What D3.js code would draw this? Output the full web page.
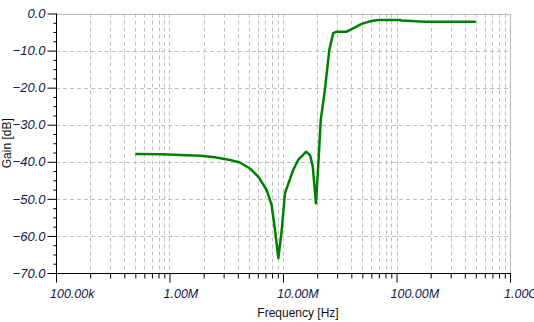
<!DOCTYPE html>
<html>
<head>
<meta charset="utf-8">
<script src="https://cdn.jsdelivr.net/npm/d3@7"></script>
<style>
  body { margin: 0; background: #fff; }
  svg { display: block; }
</style>
</head>
<body>
<script>
  var width = 534;
  var height = 322;

  // frequency [Hz] and gain [dB]
  var freq = [0.5e6, 0.877e6, 1.24e6, 1.86e6, 2.52e6, 3.41e6, 4.18e6, 5.12e6, 6.05e6, 7.18e6,
    7.94e6, 8.5e6, 9.1e6, 9.75e6, 10.4e6, 12.3e6, 13.6e6, 15.96e6, 17.3e6, 18.3e6,
    19.5e6, 20.5e6, 21.5e6, 23.4e6, 25.6e6, 27.7e6, 29.7e6, 36.4e6, 40.3e6, 49.3e6,
    60.4e6, 69.1e6, 107e6, 111e6, 178e6, 500e6];
  var gain = [-37.9, -38.0, -38.2, -38.4, -38.8, -39.5, -40.2, -41.8, -44.0, -47.6,
    -51.7, -58.4, -66.0, -58.4, -48.5, -42.2, -39.5, -37.3, -38.2, -41.3,
    -51.2, -40.4, -28.7, -20.6, -9.8, -5.3, -4.9, -4.9, -4.2, -2.8,
    -2.0, -1.75, -1.75, -1.9, -2.2, -2.2];

  var xTicks = [1e5, 1e6, 1e7, 1e8, 1e9];
  var xTickLabels = ["100.00k", "1.00M", "10.00M", "100.00M", "1.00G"];
  var yTicks = [0, -10, -20, -30, -40, -50, -60, -70];

  var margin = {left: 56, right: 24, top: 13.5, bottom: 49};

  var x = d3.scaleLog()
    .domain([1e5, 1e9])
    .range([margin.left, width - margin.right]);

  var y = d3.scaleLinear()
    .domain([-70, 0])
    .range([height - margin.bottom, margin.top]);

  var svg = d3.select("body")
    .append("svg")
    .attr("width", width)
    .attr("height", height)
    .style("font-family", "'Liberation Sans', Arial, sans-serif");

  // minor decade positions
  var minorX = [];
  for (var e = 5; e < 9; e++) {
    for (var m = 1; m <= 9; m++) minorX.push(m * Math.pow(10, e));
  }
  minorX.push(1e9);

  var minorY = d3.range(-70, 0.01, 2.5);

  // grid
  svg.append("g").selectAll("line")
    .data(minorX.filter(function(d) { return d > 1e5 && d < 1e9; }))
    .enter().append("line")
    .attr("x1", function(d) { return Math.round(x(d)) + 0.5; })
    .attr("x2", function(d) { return Math.round(x(d)) + 0.5; })
    .attr("y1", y(0))
    .attr("y2", y(-70))
    .style("stroke", "#c0c0c0")
    .style("stroke-dasharray", "4,3");

  svg.append("g").selectAll("line")
    .data(yTicks.filter(function(d) { return d > -70 && d < 0; }))
    .enter().append("line")
    .attr("x1", x(1e5))
    .attr("x2", x(1e9))
    .attr("y1", function(d) { return Math.round(y(d)) + 0.5; })
    .attr("y2", function(d) { return Math.round(y(d)) + 0.5; })
    .style("stroke", "#c0c0c0")
    .style("stroke-dasharray", "4,3");

  // top and right border
  svg.append("path")
    .attr("d", "M" + x(1e5) + "," + (Math.round(y(0)) + 0.5) + "H" + (Math.round(x(1e9)) + 0.5) + "V" + y(-70))
    .style("fill", "none")
    .style("stroke", "#b8b8b8");

  // curve
  var line = d3.line()
    .x(function(d, i) { return x(freq[i]); })
    .y(function(d) { return y(d); });

  svg.append("path")
    .datum(gain)
    .attr("d", line)
    .style("fill", "none")
    .style("stroke", "#008000")
    .style("stroke-width", 2.5)
    .style("stroke-linejoin", "round");

  // axes
  var xAxis = d3.axisBottom(x)
    .tickValues(minorX)
    .tickSize(5)
    .tickFormat("");

  var gx = svg.append("g")
    .attr("transform", "translate(0," + (Math.round(y(-70)) + 0.5) + ")")
    .call(xAxis);
  gx.select(".domain").remove();
  gx.selectAll(".tick line")
    .attr("y2", function(d) { return xTicks.indexOf(d) >= 0 ? 9 : 5; })
    .style("stroke", "#000");
  gx.append("line")
    .attr("x1", x(1e5)).attr("x2", x(1e9) + 1)
    .style("stroke", "#000");

  // labels start just left of their tick, as in the original (last one runs off the edge)
  gx.selectAll(".lbl")
    .data(xTicks)
    .enter().append("text")
    .attr("class", "lbl")
    .attr("x", function(d) { return x(d) - 6; })
    .attr("y", 24)
    .attr("text-anchor", "start")
    .style("font-size", "12.5px")
    .style("font-style", "italic")
    .style("fill", "#15154a")
    .text(function(d, i) { return xTickLabels[i]; });

  var yAxis = d3.axisLeft(y)
    .tickValues(minorY)
    .tickSize(3)
    .tickFormat("");

  var gy = svg.append("g")
    .attr("transform", "translate(" + (Math.round(x(1e5)) + 0.5) + ",0)")
    .call(yAxis);
  gy.select(".domain").remove();
  gy.selectAll(".tick line")
    .attr("x2", function(d) { return d % 10 === 0 ? -9 : -3; })
    .style("stroke", "#000");
  gy.append("line")
    .attr("y1", y(0)).attr("y2", y(-70))
    .style("stroke", "#000");

  gy.selectAll(".lbl")
    .data(yTicks)
    .enter().append("text")
    .attr("class", "lbl")
    .attr("x", -11)
    .attr("y", function(d) { return y(d); })
    .attr("dy", "0.36em")
    .attr("text-anchor", "end")
    .style("font-size", "13px")
    .style("font-style", "italic")
    .style("fill", "#15154a")
    .text(function(d) { return d3.format(".1f")(d); });

  // titles
  svg.append("text")
    .attr("x", 298)
    .attr("y", 317)
    .attr("text-anchor", "middle")
    .style("font-size", "12px")
    .style("fill", "#111")
    .text("Frequency [Hz]");

  svg.append("text")
    .attr("transform", "translate(10.5," + ((y(0) + y(-70)) / 2) + ") rotate(-90)")
    .attr("text-anchor", "middle")
    .style("font-size", "12px")
    .style("fill", "#111")
    .text("Gain [dB]");
</script>
</body>
</html>
